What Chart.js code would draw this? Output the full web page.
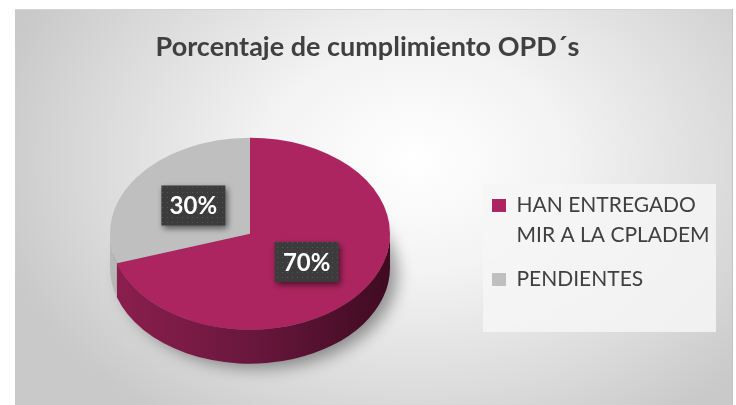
<!DOCTYPE html>
<html>
<head>
<meta charset="utf-8">
<script src="https://cdn.jsdelivr.net/npm/chart.js@4.4.1/dist/chart.umd.min.js"></script>
<style>
    html, body { margin: 0; padding: 0; background: #fff; }
    body { width: 736px; height: 405px; position: relative; overflow: hidden; }
    #panel {
        position: absolute; left: 15px; top: 9px; width: 717px; height: 396px;
        border-top: 1px solid #d4d4d4; border-right: 1px solid #c4c4c4;
        background: radial-gradient(ellipse 430px 320px at 400px 150px, #ffffff 0%, #f3f3f3 35%, #dadada 75%, #c9c9c9 100%);
    }
    #wrap { position: absolute; left: 0; top: 0; width: 736px; height: 405px; }
</style>
</head>
<body>
<div id="panel"></div>
<div id="wrap"><canvas id="pieChart"></canvas></div>
<script>
const chartTitle = 'Porcentaje de cumplimiento OPD´s';
const labels = [['HAN ENTREGADO', 'MIR A LA CPLADEM'], 'PENDIENTES'];
const values = [70, 30];
const topColors = ['#ad2560', '#bfbfbf'];
const sideColors = [['#8c1f4f', '#6a173d', '#3f0b21'], ['#b8b8b8', '#a4a4a4', '#949494']];

const TILT = 96 / 140;   // vertical squash of the pie
const DEPTH = 34;        // thickness of the pie in screen pixels

// dotted pattern for the value boxes
function makePattern(ctx) {
    const c = document.createElement('canvas');
    c.width = 5; c.height = 5;
    const p = c.getContext('2d');
    p.fillStyle = '#3c3c3c';
    p.fillRect(0, 0, 5, 5);
    p.fillStyle = '#575757';
    p.fillRect(2, 2, 1, 1);
    return ctx.createPattern(c, 'repeat');
}

const legendBox = {
    id: 'legendBox',
    beforeDraw(chart) {
        const lg = chart.legend;
        const hb = lg.legendHitBoxes;
        if (!hb || !hb.length) return;
        const ctx = chart.ctx;
        const x1 = hb[0].left - 9, x2 = lg.right + 3;
        const y1 = hb[0].top - 11, y2 = hb[hb.length - 1].top + 63;
        ctx.save();
        ctx.fillStyle = 'rgba(246,246,246,0.85)';
        ctx.fillRect(x1, y1, x2 - x1, y2 - y1);
        ctx.restore();
    }
};

const pie3d = {
    id: 'pie3d',
    beforeDatasetsDraw(chart) {
        const ctx = chart.ctx;
        const arcs = chart.getDatasetMeta(0).data;
        const cx = arcs[0].x, cy = arcs[0].y, r = arcs[0].outerRadius;
        const d = DEPTH / TILT;

        ctx.save();
        ctx.translate(cx, cy);
        ctx.scale(1, TILT);
        ctx.translate(-cx, -cy);

        // soft shadow under the pie
        ctx.save();
        ctx.shadowColor = 'rgba(0,0,0,0.4)';
        ctx.shadowBlur = 16;
        ctx.shadowOffsetX = 9;
        ctx.shadowOffsetY = 6;
        ctx.beginPath();
        ctx.arc(cx, cy + d, r - 2, 0, Math.PI * 2);
        ctx.fillStyle = '#6a6a6a';
        ctx.fill();
        ctx.restore();

        // visible side walls (front half)
        arcs.forEach((arc, i) => {
            const a = Math.max(arc.startAngle, 0);
            const b = Math.min(arc.endAngle, Math.PI);
            if (b <= a) return;
            const g = ctx.createLinearGradient(cx - r, 0, cx + r, 0);
            g.addColorStop(0, sideColors[i][0]);
            g.addColorStop(0.5, sideColors[i][1]);
            g.addColorStop(1, sideColors[i][2]);
            ctx.beginPath();
            ctx.arc(cx, cy, r, a, b);
            ctx.arc(cx, cy + d, r, b, a, true);
            ctx.closePath();
            ctx.fillStyle = g;
            ctx.fill();
        });

        // top face
        arcs.forEach(arc => arc.draw(ctx));
        ctx.restore();
        return false;
    },
    afterDraw(chart) {
        const ctx = chart.ctx;
        const arcs = chart.getDatasetMeta(0).data;
        const cy = arcs[0].y;
        const pattern = makePattern(ctx);
        ctx.save();
        ctx.font = 'bold 24px Lato';
        ctx.textAlign = 'center';
        ctx.textBaseline = 'middle';
        arcs.forEach((arc, i) => {
            const p = arc.tooltipPosition();
            const x = p.x;
            const y = cy + (p.y - cy) * TILT;
            const w = 64, h = 40;
            ctx.save();
            ctx.shadowColor = 'rgba(0,0,0,0.55)';
            ctx.shadowBlur = 6;
            ctx.shadowOffsetX = 2;
            ctx.shadowOffsetY = 3;
            ctx.fillStyle = pattern;
            ctx.fillRect(x - w / 2, y - h / 2, w, h);
            ctx.restore();
            ctx.fillStyle = '#ffffff';
            ctx.fillText(values[i] + '%', x, y + 1);
        });
        ctx.restore();
    }
};

const ctx = document.getElementById('pieChart').getContext('2d');
new Chart(ctx, {
    type: 'pie',
    data: {
        labels: labels,
        datasets: [{
            data: values,
            backgroundColor: topColors,
            borderWidth: 0
        }]
    },
    options: {
        responsive: true,
        maintainAspectRatio: false,
        animation: false,
        events: [],
        radius: 140,
        layout: { padding: { left: 22, right: 23, top: 10, bottom: 1 } },
        plugins: {
            title: {
                display: true,
                text: chartTitle,
                color: '#404040',
                font: { family: 'Lato', size: 27, weight: 'bold', lineHeight: 1.2 },
                padding: { top: 21, bottom: 0 }
            },
            legend: {
                position: 'right',
                maxWidth: 235,
                title: { display: true, text: '', font: { size: 10, lineHeight: 1 }, padding: { top: 57, bottom: 4 } },
                labels: {
                    color: '#404040',
                    font: { family: 'Lato', size: 21, lineHeight: 1.43 },
                    boxWidth: 14,
                    boxHeight: 13,
                    padding: 14
                }
            },
            tooltip: { enabled: false }
        }
    },
    plugins: [legendBox, pie3d]
});
</script>
</body>
</html>
